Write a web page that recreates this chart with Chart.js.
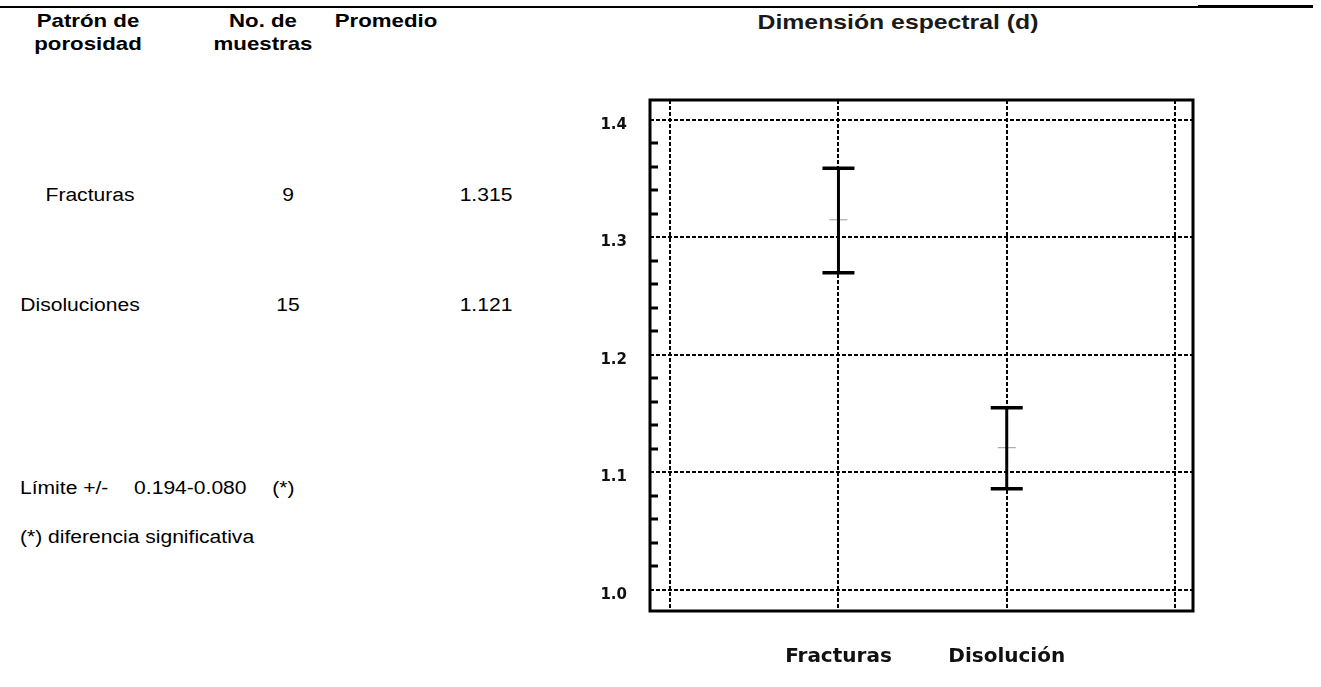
<!DOCTYPE html>
<html>
<head>
<meta charset="utf-8">
<script src="https://cdn.jsdelivr.net/npm/chart.js@4.4.0/dist/chart.umd.min.js"></script>
<style>
  body{margin:0;background:#fff;width:1321px;height:687px;position:relative;overflow:hidden;font-family:"Liberation Sans",Arial,sans-serif;color:#000;}
  .t{position:absolute;white-space:nowrap;font-size:18px;line-height:23px;transform:scaleX(1.17);transform-origin:left center;}
  .c{text-align:center;width:200px;transform-origin:center center;}
  .b{font-weight:bold;font-size:19px;}
  .gap{display:inline-block;width:22px;}
  #rule1{position:absolute;left:0;top:6px;width:1198px;height:2px;background:#000;}
  #rule2{position:absolute;left:1198px;top:5px;width:115px;height:3px;background:#000;}
  #title{position:absolute;left:698px;top:10px;width:400px;text-align:center;font-weight:bold;font-size:21px;color:#1a1a1a;transform:scaleX(1.18);}
  #wrap{position:absolute;left:580px;top:90px;}
</style>
</head>
<body>
<div id="rule1"></div><div id="rule2"></div>
<div id="table"></div>
<div id="title">Dimensión espectral (d)</div>
<div id="wrap"><canvas id="chart" width="660" height="597"></canvas></div>
<script>
// --- table values
const headers = ['Patrón de<br>porosidad', 'No. de<br>muestras', 'Promedio'];
const groups = ['Fracturas', 'Disoluciones'];
const sampleCounts = [9, 15];
const groupMeans = ['1.315', '1.121'];
const limitParts = ['Límite +/-', '0.194-0.080', '(*)'];
const footnote = '(*) diferencia significativa';

// --- chart values
const categories = ['Fracturas', 'Disolución'];
const lowerLimit = [1.270, 1.086];
const upperLimit = [1.359, 1.155];
const means = [1.315, 1.121];
const yTicks = [1.0, 1.1, 1.2, 1.3, 1.4];
const yMinorTicks = [1.02,1.04,1.06,1.08,1.12,1.14,1.16,1.18,1.22,1.24,1.26,1.28,1.32,1.34,1.36,1.38];
const xTicks = [0, 1, 2, 3];

// --- left table (html text)
const table = document.getElementById('table');
const colCenters = [88, 263, 386];
const rowTops = [184, 294];
let html = '';
headers.forEach((h,i)=>{ html += `<div class="t c b" style="left:${colCenters[i]-100}px;top:9px">${h}</div>`; });
groups.forEach((g,r)=>{
  html += `<div class="t c" style="left:${(r?80:90)-100}px;top:${rowTops[r]}px">${g}</div>`;
  html += `<div class="t c" style="left:${288-100}px;top:${rowTops[r]}px">${sampleCounts[r]}</div>`;
  html += `<div class="t c" style="left:${486-100}px;top:${rowTops[r]}px">${groupMeans[r]}</div>`;
});
html += `<div class="t" style="left:20px;top:477px">${limitParts.join('<span class="gap"></span>')}</div>`;
html += `<div class="t" style="left:20px;top:526px">${footnote}</div>`;
table.innerHTML = html;

// --- frame + minor ticks
const framePlugin = {
  id:'frame',
  afterDraw(chart){
    const {ctx, chartArea:a, scales:{y}} = chart;
    ctx.save();
    ctx.strokeStyle='#000';
    ctx.lineWidth=3;
    ctx.strokeRect(a.left, a.top, a.right-a.left, a.bottom-a.top);
    yMinorTicks.forEach(v=>{
      const py = Math.round(y.getPixelForValue(v));
      ctx.beginPath(); ctx.moveTo(a.left, py); ctx.lineTo(a.left+8, py); ctx.stroke();
    });
    ctx.restore();
  }
};

const errorSets = categories.map((c,i)=>({
  label:c,
  data:[{x:i+1,y:lowerLimit[i]},{x:i+1,y:upperLimit[i]}],
  showLine:true,
  borderColor:'#000',
  borderWidth:3,
  pointStyle:'line',
  pointRadius:16,
  pointBorderWidth:3.5,
  pointBorderColor:'#000'
}));
const meanSet = {
  label:'Promedio',
  data:means.map((m,i)=>({x:i+1,y:m})),
  showLine:false,
  pointStyle:'line',
  pointRadius:9,
  pointBorderWidth:1,
  pointBorderColor:'#999'
};

const gridCommon = {color:'#000', lineWidth:2, drawTicks:false};
new Chart(document.getElementById('chart'), {
  type:'scatter',
  data:{datasets:[...errorSets, meanSet]},
  options:{
    responsive:false,
    animation:false,
    layout:{autoPadding:false, padding:{top:10,right:47,left:0,bottom:0}},
    plugins:{legend:{display:false},tooltip:{enabled:false}},
    scales:{
      x:{
        type:'linear', min:-0.12, max:3.107,
        afterBuildTicks:s=>{ s.ticks = xTicks.map(v=>({value:v})); },
        afterFit:s=>{ s.height = 76; s.paddingLeft = 0; s.paddingRight = 0; },
        grid:gridCommon,
        border:{display:false, dash:[4,2]},
        ticks:{
          padding:34, color:'#111',
          font:{family:'DejaVu Sans', size:20, weight:'bold'},
          callback:v=>categories[v-1] || ''
        }
      },
      y:{
        min:0.982, max:1.417,
        afterBuildTicks:s=>{ s.ticks = yTicks.map(v=>({value:v})); },
        afterFit:s=>{ s.width = 70; s.paddingTop = 0; s.paddingBottom = 0; },
        grid:gridCommon,
        border:{display:false, dash:[4,2]},
        ticks:{
          padding:23, labelOffset:5, color:'#111',
          font:{family:'DejaVu Sans', size:15, weight:'bold'},
          callback:v=>v.toFixed(1)
        }
      }
    }
  },
  plugins:[framePlugin]
});
</script>
</body>
</html>
